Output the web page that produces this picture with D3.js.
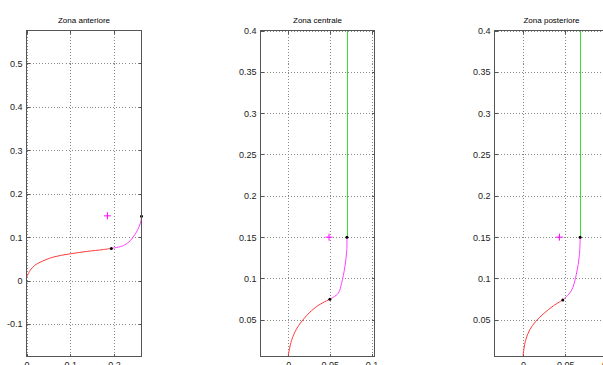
<!DOCTYPE html>
<meta charset="utf-8">
<style>
body { margin: 0; padding: 0; background: #fff; }
svg { display: block; }
.title { font: 8px "Liberation Sans", Arial, sans-serif; fill: #000; }
.tick text { font: 9px "Liberation Sans", Arial, sans-serif; fill: #222; }
.frame { fill: none; stroke: #555; stroke-width: 1; }
.grid line { stroke: #888; stroke-width: 1; stroke-dasharray: 1,2; shape-rendering: crispEdges; }
.tickmark { stroke: #555; stroke-width: 1; shape-rendering: crispEdges; }
</style>
<body>
<div id="chart"></div>
<script src="https://cdn.jsdelivr.net/npm/d3@7"></script>
<script>

var titles = ["Zona anteriore", "Zona centrale", "Zona posteriore"];

// axis limits
var xDomains = [[0, 0.263], [-0.0333, 0.1036], [-0.0337, 0.1010]];
var yDomains = [[-0.175, 0.576], [0.0056, 0.4], [0.0056, 0.4]];

// tick values
var xTicks = [[0, 0.1, 0.2], [0, 0.05, 0.1], [0, 0.05, 0.1]];
var yTicks = [[-0.1, 0, 0.1, 0.2, 0.3, 0.4, 0.5],
              [0.05, 0.1, 0.15, 0.2, 0.25, 0.3, 0.35, 0.4],
              [0.05, 0.1, 0.15, 0.2, 0.25, 0.3, 0.35, 0.4]];

// red segment
var redCurves = [
  [[0, 0.0076], [0.008, 0.023], [0.019, 0.035], [0.031, 0.042], [0.061, 0.054], [0.1, 0.0615], [0.138, 0.067], [0.176, 0.0714], [0.194, 0.074]],
  [[0, 0.0068], [0.004, 0.025], [0.010, 0.039], [0.022, 0.055], [0.034, 0.066], [0.050, 0.075]],
  [[0, 0.007], [0.003, 0.025], [0.008, 0.038], [0.015, 0.048], [0.025, 0.058], [0.036, 0.067], [0.047, 0.074]]
];

// magenta segment
var magentaCurves = [
  [[0.194, 0.074], [0.222, 0.0806], [0.2375, 0.092], [0.249, 0.1075], [0.257, 0.123], [0.262, 0.138], [0.263, 0.148]],
  [[0.050, 0.075], [0.060, 0.082], [0.064, 0.094], [0.068, 0.114], [0.0703, 0.134], [0.0705, 0.15]],
  [[0.047, 0.074], [0.057, 0.085], [0.063, 0.105], [0.0667, 0.129], [0.0675, 0.15]]
];

// green vertical segment
var greenLines = [
  [],
  [[0.0705, 0.15], [0.0705, 0.4]],
  [[0.0675, 0.15], [0.0675, 0.4]]
];

// black dots
var dots = [
  [[0.194, 0.074], [0.263, 0.148]],
  [[0.050, 0.075], [0.0705, 0.15]],
  [[0.047, 0.074], [0.0675, 0.15]]
];

// magenta plus markers
var plusMarks = [[0.185, 0.149], [0.049, 0.15], [0.043, 0.15]];

// axes boxes in pixels
var boxes = [
  {left: 26.5, right: 141.5},
  {left: 260.5, right: 374.5},
  {left: 494.5, right: 608.5}
];
var axTop = 30.5, axBottom = 356.5;

var svg = d3.select("#chart").append("svg")
    .attr("width", 603)
    .attr("height", 365);

titles.forEach(function(title, i) {
  var b = boxes[i];
  var x = d3.scaleLinear().domain(xDomains[i]).range([b.left, b.right]);
  var y = d3.scaleLinear().domain(yDomains[i]).range([axBottom, axTop]);

  var g = svg.append("g");

  var clipId = "clip" + i;
  g.append("clipPath").attr("id", clipId)
    .append("rect")
      .attr("x", b.left).attr("y", axTop)
      .attr("width", b.right - b.left).attr("height", axBottom - axTop);

  // grid
  var grid = g.append("g").attr("class", "grid");
  grid.selectAll(".gx").data(xTicks[i]).enter().append("line")
      .attr("x1", function(d) { return Math.round(x(d)) + 0.5; })
      .attr("x2", function(d) { return Math.round(x(d)) + 0.5; })
      .attr("y1", axTop).attr("y2", axBottom);
  grid.selectAll(".gy").data(yTicks[i]).enter().append("line")
      .attr("y1", function(d) { return Math.round(y(d)) + 0.5; })
      .attr("y2", function(d) { return Math.round(y(d)) + 0.5; })
      .attr("x1", b.left).attr("x2", b.right);

  // tick marks on all four sides, inward
  var tl = 3;
  xTicks[i].forEach(function(d) {
    var px = Math.round(x(d)) + 0.5;
    g.append("line").attr("class", "tickmark").attr("x1", px).attr("x2", px).attr("y1", axBottom).attr("y2", axBottom - tl);
    g.append("line").attr("class", "tickmark").attr("x1", px).attr("x2", px).attr("y1", axTop).attr("y2", axTop + tl);
  });
  yTicks[i].forEach(function(d) {
    var py = Math.round(y(d)) + 0.5;
    g.append("line").attr("class", "tickmark").attr("y1", py).attr("y2", py).attr("x1", b.left).attr("x2", b.left + tl);
    g.append("line").attr("class", "tickmark").attr("y1", py).attr("y2", py).attr("x1", b.right).attr("x2", b.right - tl);
  });

  // axis labels via d3 axes (lines hidden)
  var fmt = function(d) { return String(+d.toFixed(3)); };
  var xa = g.append("g").attr("transform", "translate(0," + axBottom + ")")
      .call(d3.axisBottom(x).tickValues(xTicks[i]).tickFormat(fmt).tickSize(0).tickPadding(5));
  xa.select(".domain").remove();
  var ya = g.append("g").attr("transform", "translate(" + b.left + ",0)")
      .call(d3.axisLeft(y).tickValues(yTicks[i]).tickFormat(fmt).tickSize(0).tickPadding(4));
  ya.select(".domain").remove();

  // curves
  var line = d3.line()
      .x(function(d) { return x(d[0]); })
      .y(function(d) { return y(d[1]); })
      .curve(d3.curveCatmullRom.alpha(0.5));

  var plot = g.append("g").attr("clip-path", "url(#" + clipId + ")");

  plot.append("path").datum(redCurves[i])
      .attr("d", line).attr("fill", "none").attr("stroke", "#ff3a3a").attr("stroke-width", 1);
  plot.append("path").datum(magentaCurves[i])
      .attr("d", line).attr("fill", "none").attr("stroke", "#ff40ff").attr("stroke-width", 1);
  if (greenLines[i].length) {
    plot.append("path").datum(greenLines[i])
        .attr("d", d3.line()
          .x(function(d) { return Math.round(x(d[0])) + 0.5; })
          .y(function(d) { return y(d[1]); }))
        .attr("fill", "none").attr("stroke", "#33e033").attr("stroke-width", 1);
  }

  // plus marker
  var pm = plusMarks[i];
  plot.append("path")
      .attr("d", "M" + (x(pm[0]) - 3.5) + "," + y(pm[1]) + "h7M" + x(pm[0]) + "," + (y(pm[1]) - 3.5) + "v7")
      .attr("stroke", "#ff00ff").attr("stroke-width", 1).attr("fill", "none");

  // black dots
  g.selectAll(".dot").data(dots[i]).enter().append("circle")
      .attr("cx", function(d) { return x(d[0]); })
      .attr("cy", function(d) { return y(d[1]); })
      .attr("r", 1.5)
      .attr("fill", "#000");

  // frame
  g.append("rect").attr("class", "frame")
      .attr("x", b.left).attr("y", axTop)
      .attr("width", b.right - b.left).attr("height", axBottom - axTop);

  // title
  g.append("text").attr("class", "title")
      .attr("x", (b.left + b.right) / 2)
      .attr("y", 23)
      .attr("text-anchor", "middle")
      .text(title);
});

</script>
</body>
